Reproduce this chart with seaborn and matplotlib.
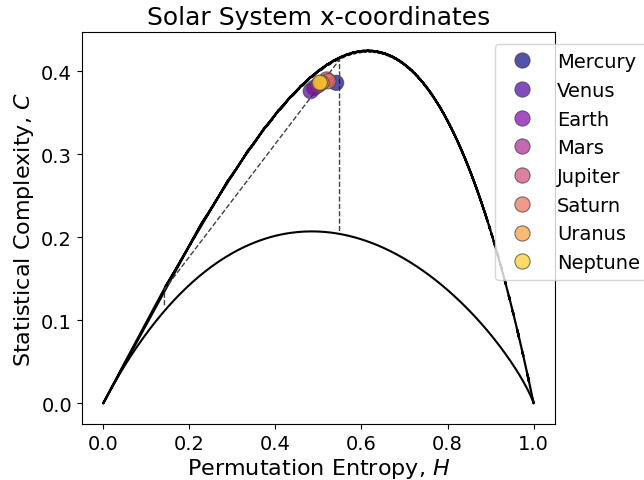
import numpy as np
import pandas as pd
import matplotlib
matplotlib.use("Agg")
import matplotlib.pyplot as plt
import seaborn as sns
from math import factorial

# Permutation entropy / statistical complexity of each planet's x-coordinate series
planets = ["Mercury", "Venus", "Earth", "Mars", "Jupiter", "Saturn", "Uranus", "Neptune"]
entropy = [0.541, 0.482, 0.490, 0.499, 0.519, 0.523, 0.507, 0.503]
complexity = [0.386, 0.376, 0.380, 0.383, 0.390, 0.388, 0.386, 0.386]

# Embedding dimension used for the ordinal patterns
embed_dim = 5

# Dashed guide polyline in the (H, C) plane
guide_h = [0.142, 0.142, 0.549, 0.549]
guide_c = [0.118, 0.137, 0.414, 0.206]

plt.rcParams["font.size"] = 14


def shannon(p):
    p = p[p > 0]
    return -np.sum(p * np.log(p))


def h_c(p, n_states):
    pe = np.full(n_states, 1.0 / n_states)
    h = shannon(p) / np.log(n_states)
    js = shannon((p + pe) / 2) - shannon(p) / 2 - shannon(pe) / 2
    q0 = -2.0 / ((n_states + 1) / n_states * np.log(n_states + 1)
                 - 2 * np.log(2 * n_states) + np.log(n_states))
    return h, q0 * js * h


def min_curve(n_states, m=300):
    pts = []
    for pm in np.linspace(1.0 / n_states, 1, m):
        p = np.full(n_states, (1 - pm) / (n_states - 1))
        p[0] = pm
        pts.append(h_c(p, n_states))
    return np.array(pts)


def max_curve(n_states, m=20):
    pts = []
    for k in range(n_states - 1):
        for pk in np.linspace(0, 1.0 / (n_states - k), m):
            p = np.zeros(n_states)
            p[0] = pk
            p[1:n_states - k] = (1 - pk) / (n_states - k - 1)
            pts.append(h_c(p, n_states))
    return np.array(pts)


n_states = factorial(embed_dim)
cmin = min_curve(n_states)
cmax = max_curve(n_states)

fig = plt.figure(figsize=(6.44, 4.81), dpi=100)
ax = fig.add_axes([0.127, 0.116, 0.735, 0.815])

sns.lineplot(x=cmax[:, 0], y=cmax[:, 1], sort=False, estimator=None,
             color="black", lw=1.6, ax=ax)
sns.lineplot(x=cmin[:, 0], y=cmin[:, 1], sort=False, estimator=None,
             color="black", lw=1.5, ax=ax)
ax.plot(guide_h, guide_c, ls="--", color="0.25", lw=1.0)

df = pd.DataFrame({"planet": planets, "H": entropy, "C": complexity})
colors = [plt.cm.plasma(v) for v in np.linspace(0, 0.9, len(planets))]
sns.scatterplot(data=df, x="H", y="C", hue="planet", hue_order=planets,
                palette=colors, s=120, alpha=0.7, edgecolor="0.25",
                linewidth=0.8, ax=ax, zorder=3)

ax.set_ylim(-0.0253, 0.447)
ax.set_title("Solar System x-coordinates", fontsize=18)
ax.set_xlabel("Permutation Entropy, $H$", fontsize=16, labelpad=2)
ax.set_ylabel("Statistical Complexity, $C$", fontsize=16)
ax.set_xticks([0.0, 0.2, 0.4, 0.6, 0.8, 1.0])
ax.set_yticks([0.0, 0.1, 0.2, 0.3, 0.4])

sns.move_legend(ax, "upper left", bbox_to_anchor=(0.873, 0.969),
                borderaxespad=0, title=None, frameon=True, fontsize=14)

fig.savefig("out.png", dpi=100)
